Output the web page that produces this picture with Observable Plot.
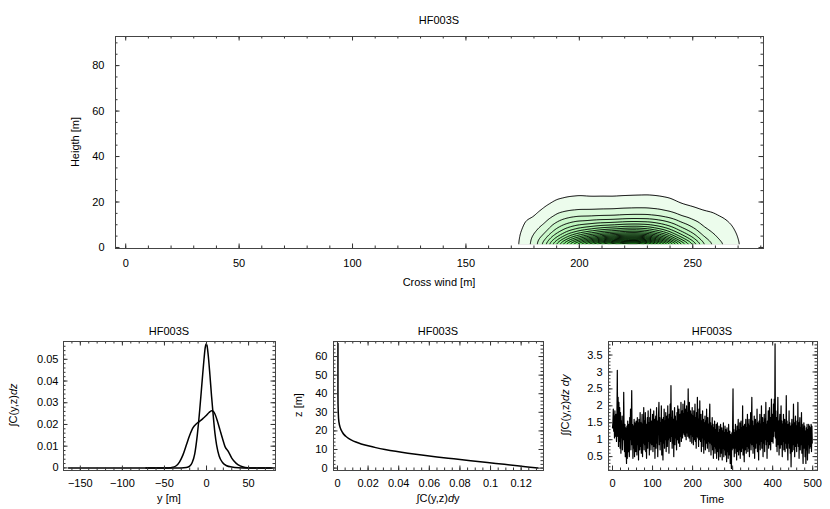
<!DOCTYPE html>
<html><head><meta charset="utf-8">
<script src="https://cdn.jsdelivr.net/npm/d3@7"></script>
<script src="https://cdn.jsdelivr.net/npm/@observablehq/plot@0.6"></script>
<style>
body{margin:0;background:#fff;}
#root{position:relative;width:830px;height:509px;overflow:hidden;font-family:"Liberation Sans",Arial,Helvetica,sans-serif;font-size:11px;color:#000;}
.t{position:absolute;white-space:nowrap;transform:translate(-50%,-50%);line-height:1;}
.r{position:absolute;white-space:nowrap;transform:translate(-50%,-50%) rotate(-90deg);line-height:1;}
.p{position:absolute;}
</style></head><body><div id="root"></div>
<script>
// ---------- data ----------
const runName = "HF003S";

// Top: concentration field (in contour-level units) on a crosswind x height grid
const crossWind = [170,175,180,185,190,195,200,205,210,215,220,225,230,235,240,245,250,255,260,265,270,275];
const heights = [1,2.5,4,6,8,10,13,16,19,22,25,29];
const c170 = [0.55,0.54,0.52,0.50,0.47,0.44,0.40,0.35,0.31,0.27,0.23,0.19];
const c175 = [1.25,1.22,1.18,1.12,1.02,0.93,0.80,0.68,0.57,0.48,0.40,0.31];
const c180 = [2.40,2.32,2.22,2.00,1.72,1.45,1.05,0.78,0.60,0.47,0.37,0.28];
const c185 = [5.00,4.34,3.81,3.13,2.59,2.15,1.61,1.22,0.90,0.66,0.51,0.37];
const c190 = [8.70,7.41,6.32,5.11,4.13,3.33,2.41,1.72,1.22,0.91,0.69,0.49];
const c195 = [12.6,10.5,8.80,6.92,5.43,4.26,2.96,2.00,1.41,1.02,0.76,0.53];
const c200 = [16.0,13.1,10.8,8.31,6.39,4.91,3.26,2.14,1.49,1.08,0.79,0.54];
const c205 = [19.5,15.7,12.6,9.42,7.04,5.25,3.30,2.15,1.47,1.04,0.75,0.50];
const c210 = [22.5,17.9,14.2,10.4,7.66,5.61,3.41,2.21,1.50,1.05,0.75,0.48];
const c215 = [24.5,19.3,15.2,11.0,8.00,5.80,3.45,2.23,1.51,1.04,0.75,0.47];
const c220 = [25.8,20.3,16.0,11.6,8.41,6.09,3.61,2.32,1.57,1.08,0.77,0.49];
const c225 = [26.2,20.6,16.2,11.8,8.54,6.18,3.67,2.36,1.60,1.10,0.79,0.50];
const c230 = [24.0,19.1,15.2,11.1,8.18,6.00,3.65,2.35,1.60,1.12,0.80,0.52];
const c235 = [20.0,16.1,12.9,9.66,7.22,5.38,3.38,2.20,1.51,1.06,0.77,0.51];
const c240 = [15.5,12.6,10.3,7.80,5.92,4.51,2.93,1.92,1.33,0.96,0.70,0.47];
const c245 = [11.0,9.03,7.44,5.71,4.39,3.38,2.24,1.47,1.03,0.74,0.54,0.37];
const c250 = [7.40,6.20,5.22,4.13,3.27,2.58,1.81,1.24,0.88,0.64,0.48,0.33];
const c255 = [4.20,3.65,3.20,2.63,2.18,1.80,1.36,1.02,0.75,0.56,0.43,0.31];
const c260 = [2.70,2.42,2.17,1.88,1.63,1.41,1.13,0.91,0.73,0.58,0.46,0.34];
const c265 = [1.75,1.62,1.50,1.36,1.22,1.10,0.93,0.78,0.65,0.54,0.45,0.35];
const c270 = [1.07,1.04,1.00,0.95,0.88,0.82,0.73,0.64,0.56,0.48,0.41,0.33];
const c275 = [0.50,0.49,0.47,0.45,0.42,0.40,0.36,0.32,0.28,0.25,0.22,0.18];
const columns = [c170,c175,c180,c185,c190,c195,c200,c205,c210,c215,c220,c225,c230,c235,c240,c245,c250,c255,c260,c265,c270,c275];
const contourLevels = [1,2,3,4,5,6,7,8,9,10,11,12,13,14,15,16,17,18,19,20,21,22,23,24,25,26];

// Bottom left: crosswind profiles
const narrowY   = [-72,-30,-24,-20,-17,-14,-11,-8,-5,-3,-1.5,-0.5,0.5,2,4,6,8,10,12,15,19,24,30,38,50,78];
const narrowVal = [0,0,0.0002,0.0008,0.0025,0.0065,0.015,0.027,0.041,0.050,0.0555,0.057,0.0565,0.052,0.043,0.033,0.024,0.016,0.0105,0.0055,0.0025,0.001,0.0004,0.0001,0,0];
const wideY   = [-164,-45,-40,-36,-32,-28,-24,-20,-16,-12,-8,-4,0,3,6,8,10,13,16,19,22,26,30,35,40,46,52,78];
const wideVal = [0,0,0.0003,0.001,0.0028,0.006,0.0105,0.015,0.0185,0.0203,0.0215,0.0228,0.0242,0.0255,0.0263,0.026,0.0248,0.0215,0.0175,0.0135,0.0098,0.0075,0.0045,0.0022,0.0009,0.0002,0,0];

// Bottom middle: vertical profile
const profZ   = [0,1,2,3,4,5,6,7,8,9,10,11,12,13,14,15,16,17,18,19,20,22,25,30,40,50,67];
const profVal = [0.131,0.120,0.109,0.098,0.087,0.076,0.065,0.055,0.046,0.038,0.031,0.025,0.020,0.0155,0.012,0.0092,0.0072,0.0056,0.0043,0.0034,0.0027,0.0017,0.0009,0.0005,0.0003,0.0003,0.0003];

// Bottom right: time series (step 1)
const timeStep = 1;
const series = [
1.35,1.50,1.90,1.25,1.70,1.05,1.85,1.30,1.10,1.75,0.95,1.60,3.05,1.10,2.25,0.80,2.10,0.95,1.95,0.75,
1.80,0.60,1.55,1.05,1.70,0.70,1.45,1.00,2.40,1.30,0.65,1.45,0.50,1.35,0.90,0.30,1.40,0.45,1.55,0.65,
1.45,0.85,0.50,1.65,1.00,1.90,0.70,1.55,2.45,0.85,1.45,0.45,1.40,0.75,1.60,0.50,1.50,0.95,0.65,1.55,
1.35,0.55,1.65,0.85,1.50,0.40,1.60,1.05,0.70,1.80,0.80,1.50,0.60,1.40,1.75,0.50,1.45,0.90,1.95,0.70,
1.55,0.85,1.80,0.65,1.45,0.45,1.35,1.65,0.75,1.85,0.95,1.50,0.55,1.65,0.90,1.90,0.70,1.55,1.05,0.85,
1.75,0.65,1.45,1.85,0.80,1.60,0.45,1.50,1.70,0.75,1.95,0.90,1.55,0.50,1.40,1.75,2.10,0.85,1.65,0.70,
1.50,0.95,2.00,0.55,1.60,1.05,0.40,1.65,0.90,1.90,0.75,1.55,1.00,1.80,0.65,1.45,1.70,0.80,2.00,1.00,
1.60,0.60,1.75,1.05,2.05,0.95,2.60,1.10,1.65,0.75,1.85,0.90,1.60,0.50,1.50,1.95,0.85,1.70,1.05,1.55,
0.70,1.80,1.00,2.00,1.15,0.90,1.90,1.25,0.80,1.75,1.10,2.10,0.95,1.65,1.85,1.05,2.05,1.20,1.75,1.15,
2.15,1.10,1.90,1.30,1.00,2.00,1.20,1.80,1.10,2.50,1.35,1.05,2.10,1.25,0.95,1.85,1.15,1.75,0.90,1.95,
1.10,1.70,0.85,1.85,1.20,1.00,2.05,0.95,1.65,0.75,1.80,1.10,2.25,1.05,1.60,0.80,1.90,1.00,2.15,1.15,
0.95,1.75,0.65,1.55,1.05,1.85,0.80,1.60,0.60,1.50,1.00,1.70,0.70,1.55,0.90,1.90,1.05,0.75,1.65,0.95,
1.45,0.65,1.60,2.05,0.90,1.50,0.55,1.40,0.85,1.65,0.70,1.45,0.45,1.35,0.80,1.55,0.60,1.30,0.75,1.45,
0.45,1.25,1.50,0.65,1.20,0.40,1.40,0.75,1.30,0.50,1.45,0.80,0.60,1.35,0.40,1.25,0.75,1.50,0.50,1.20,
0.70,1.40,0.55,1.30,0.80,0.35,1.35,0.65,1.20,0.45,1.45,0.75,0.55,1.25,0.30,1.15,0.40,0.15,1.20,0.70,
1.35,2.50,0.75,1.30,0.50,1.20,0.60,1.45,0.75,1.25,0.40,1.40,0.65,1.15,1.60,0.55,1.30,0.70,1.50,0.45,
1.25,1.55,0.65,1.35,0.75,2.00,0.55,1.40,0.85,0.35,1.45,0.70,1.30,1.60,0.60,1.35,0.80,1.75,0.65,1.45,
0.75,1.60,0.50,1.40,0.90,1.80,0.70,1.50,2.25,0.85,1.55,0.60,1.40,0.80,1.70,0.45,1.35,1.60,0.75,1.45,
0.90,1.90,0.65,1.50,1.00,0.40,1.55,0.85,1.75,0.70,1.45,0.95,2.00,0.75,1.40,1.65,0.50,1.50,0.90,1.75,
0.65,1.60,1.00,2.10,0.85,1.45,0.45,1.55,0.95,1.85,0.75,1.50,1.95,0.85,1.65,0.70,1.40,2.20,0.95,1.55,
1.75,0.90,2.05,1.10,2.20,1.25,3.83,1.05,1.85,0.80,1.65,0.65,1.50,2.25,0.85,1.55,0.55,1.45,1.75,0.75,
1.40,2.00,0.85,1.55,0.50,1.45,0.95,1.75,0.70,1.35,1.60,0.65,1.50,0.90,2.30,0.75,1.55,0.85,0.40,1.45,
0.90,1.85,0.75,1.50,0.60,1.40,0.20,1.30,1.60,0.65,1.45,0.85,2.05,0.70,1.50,0.50,1.35,1.70,0.80,1.40,
0.65,1.55,0.90,2.10,0.80,1.50,0.45,1.40,1.65,0.70,1.35,0.85,1.80,0.60,1.45,0.80,0.30,1.30,1.50,0.75,
1.40,0.50,1.25,0.30,1.35,0.70,1.45,0.40,1.30,0.85,1.45,0.60,1.40,0.75,1.35,0.80,1.45,0.65,1.40,0.90];

// tick values
const topXMajor = [0,50,100,150,200,250];
const topXMinor = d3.range(0, 290, 10);
const topYMajor = [0,20,40,60,80];
const topYMinor = d3.range(0, 95, 5);
const blXMajor = [-150,-100,-50,0,50];
const blXMinor = d3.range(-170, 90, 10);
const blYMajor = [0,0.01,0.02,0.03,0.04,0.05];
const blYMinor = d3.range(0, 29).map(i => i * 0.002);
const bmXMajor = [0,0.02,0.04,0.06,0.08,0.1,0.12];
const bmXMinor = d3.range(0, 28).map(i => i * 0.005);
const bmYMajor = [0,10,20,30,40,50,60];
const bmYMinor = d3.range(0, 70, 2);
const brXMajor = [0,100,200,300,400,500];
const brXMinor = d3.range(0, 520, 20);
const brYMajor = [0.5,1,1.5,2,2.5,3,3.5];
const brYMinor = d3.range(1, 40).map(i => i * 0.1);

// ---------- drawing ----------
const FONT = '"Liberation Sans", Arial, Helvetica, sans-serif';
const root = document.getElementById("root");
const fmt = d => { const s = String(+(+d).toFixed(4)); return s.replace("-", "\u2212"); };

function text(html, x, y, rotate) {
  const el = document.createElement("div");
  el.className = rotate ? "r" : "t";
  el.innerHTML = html;
  el.style.left = x + "px"; el.style.top = y + "px";
  root.appendChild(el);
}

function panel(o) {
  const iw = o.width - o.mL - o.mR, ih = o.height - o.mT - o.mB;
  const inX = v => v >= o.xDomain[0] - 1e-9 && v <= o.xDomain[1] + 1e-9;
  const inY = v => v >= o.yDomain[0] - 1e-9 && v <= o.yDomain[1] + 1e-9;
  const xa = o.xMajor.filter(inX), xi = o.xMinor.filter(inX);
  const ya = o.yMajor.filter(inY), yi = o.yMinor.filter(inY);
  const tk = {stroke: "#333", strokeWidth: 1};
  const svg = Plot.plot({
    width: o.width, height: o.height,
    marginLeft: o.mL, marginRight: o.mR, marginTop: o.mT, marginBottom: o.mB,
    style: {fontFamily: FONT, fontSize: "11px", color: "#000", background: "transparent", overflow: "visible"},
    x: {domain: o.xDomain}, y: {domain: o.yDomain},
    color: o.color,
    marks: [
      ...o.marks,
      Plot.ruleX(xi, {...tk, insetTop: ih - 2.5}),
      Plot.ruleX(xi, {...tk, insetBottom: ih - 2.5}),
      Plot.ruleX(xa, {...tk, insetTop: ih - 4.5}),
      Plot.ruleX(xa, {...tk, insetBottom: ih - 4.5}),
      Plot.ruleY(yi, {...tk, insetRight: iw - 2.5}),
      Plot.ruleY(yi, {...tk, insetLeft: iw - 2.5}),
      Plot.ruleY(ya, {...tk, insetRight: iw - 4.5}),
      Plot.ruleY(ya, {...tk, insetLeft: iw - 4.5}),
      Plot.frame({stroke: "#444", strokeWidth: 1}),
      Plot.axisX({ticks: xa, tickSize: 0, tickPadding: o.xPad, tickFormat: fmt, label: null}),
      Plot.axisY({ticks: ya, tickSize: 0, tickPadding: o.yPad, tickFormat: fmt, label: null})
    ]
  });
  svg.classList.add("p");
  svg.style.left = o.left + "px"; svg.style.top = o.top + "px";
  root.appendChild(svg);
}

// top contour panel
const field = [];
columns.forEach((col, i) => col.forEach((v, j) => field.push({x: crossWind[i], z: heights[j], v})));

panel({
  left: 0, top: 0, width: 830, height: 295, mL: 115, mR: 67, mT: 36, mB: 47,
  xDomain: [-4.5, 281.2], yDomain: [-0.45, 92.8],
  xMajor: topXMajor, xMinor: topXMinor, yMajor: topYMajor, yMinor: topYMinor,
  xPad: 11, yPad: 11,
  color: {type: "pow", exponent: 0.55, domain: [1, 26], range: ["#ecfcec", "#1ee01e"]},
  marks: [
    Plot.contour(field, {
      x: "x", y: "z", fill: "v", interpolate: "barycentric",
      x1: crossWind[0], x2: crossWind[crossWind.length - 1], y1: heights[0], y2: heights[heights.length - 1],
      thresholds: contourLevels, blur: 2, pixelSize: 1,
      stroke: "#000", strokeWidth: 1
    }),
    Plot.ruleY([heights[0]], {stroke: "#fff", strokeWidth: 2})
  ]
});

// bottom left
panel({
  left: 0, top: 320, width: 285, height: 189, mL: 63, mR: 10, mT: 21, mB: 39,
  xDomain: [-170, 82], yDomain: [-0.0012, 0.0582],
  xMajor: blXMajor, xMinor: blXMinor, yMajor: blYMajor, yMinor: blYMinor,
  xPad: 9, yPad: 5,
  marks: [
    Plot.line(wideY.map((y, i) => ({y, v: wideVal[i]})), {x: "y", y: "v", stroke: "#000", strokeWidth: 1.5, curve: "monotone-x"}),
    Plot.line(narrowY.map((y, i) => ({y, v: narrowVal[i]})), {x: "y", y: "v", stroke: "#000", strokeWidth: 1.5, curve: "monotone-x"})
  ]
});

// bottom middle
panel({
  left: 285, top: 320, width: 270, height: 189, mL: 48, mR: 12, mT: 21, mB: 39,
  xDomain: [-0.0026, 0.1346], yDomain: [-1.3, 68.1],
  xMajor: bmXMajor, xMinor: bmXMinor, yMajor: bmYMajor, yMinor: bmYMinor,
  xPad: 9, yPad: 6,
  marks: [
    Plot.line(profZ.map((z, i) => ({z, v: profVal[i]})), {x: "v", y: "z", stroke: "#000", strokeWidth: 1.5, curve: "monotone-y"})
  ]
});

// bottom right
panel({
  left: 555, top: 320, width: 275, height: 189, mL: 53, mR: 13, mT: 21, mB: 39,
  xDomain: [-10, 512], yDomain: [0.09, 3.9],
  xMajor: brXMajor, xMinor: brXMinor, yMajor: brYMajor, yMinor: brYMinor,
  xPad: 9, yPad: 6,
  marks: [
    Plot.line(series.map((v, i) => ({t: i * timeStep, v})), {x: "t", y: "v", stroke: "#000", strokeWidth: 1.2})
  ]
});

// titles and labels
text(runName, 439, 20);
text("Cross wind [m]", 439, 282);
text("Heigth [m]", 75, 142, true);
text(runName, 169, 331);
text(runName, 438, 331);
text(runName, 712, 331);
text("y [m]", 169, 498);
text("&int;C(y,z)<i>d</i>y", 438, 498);
text("Time", 712, 499);
text("&int;C(y,z)<i>dz</i>", 13, 405, true);
text("z [m]", 298, 405, true);
text("&int;&int;C(y,z)<i>dz dy</i>", 565, 405, true);
</script></body></html>
